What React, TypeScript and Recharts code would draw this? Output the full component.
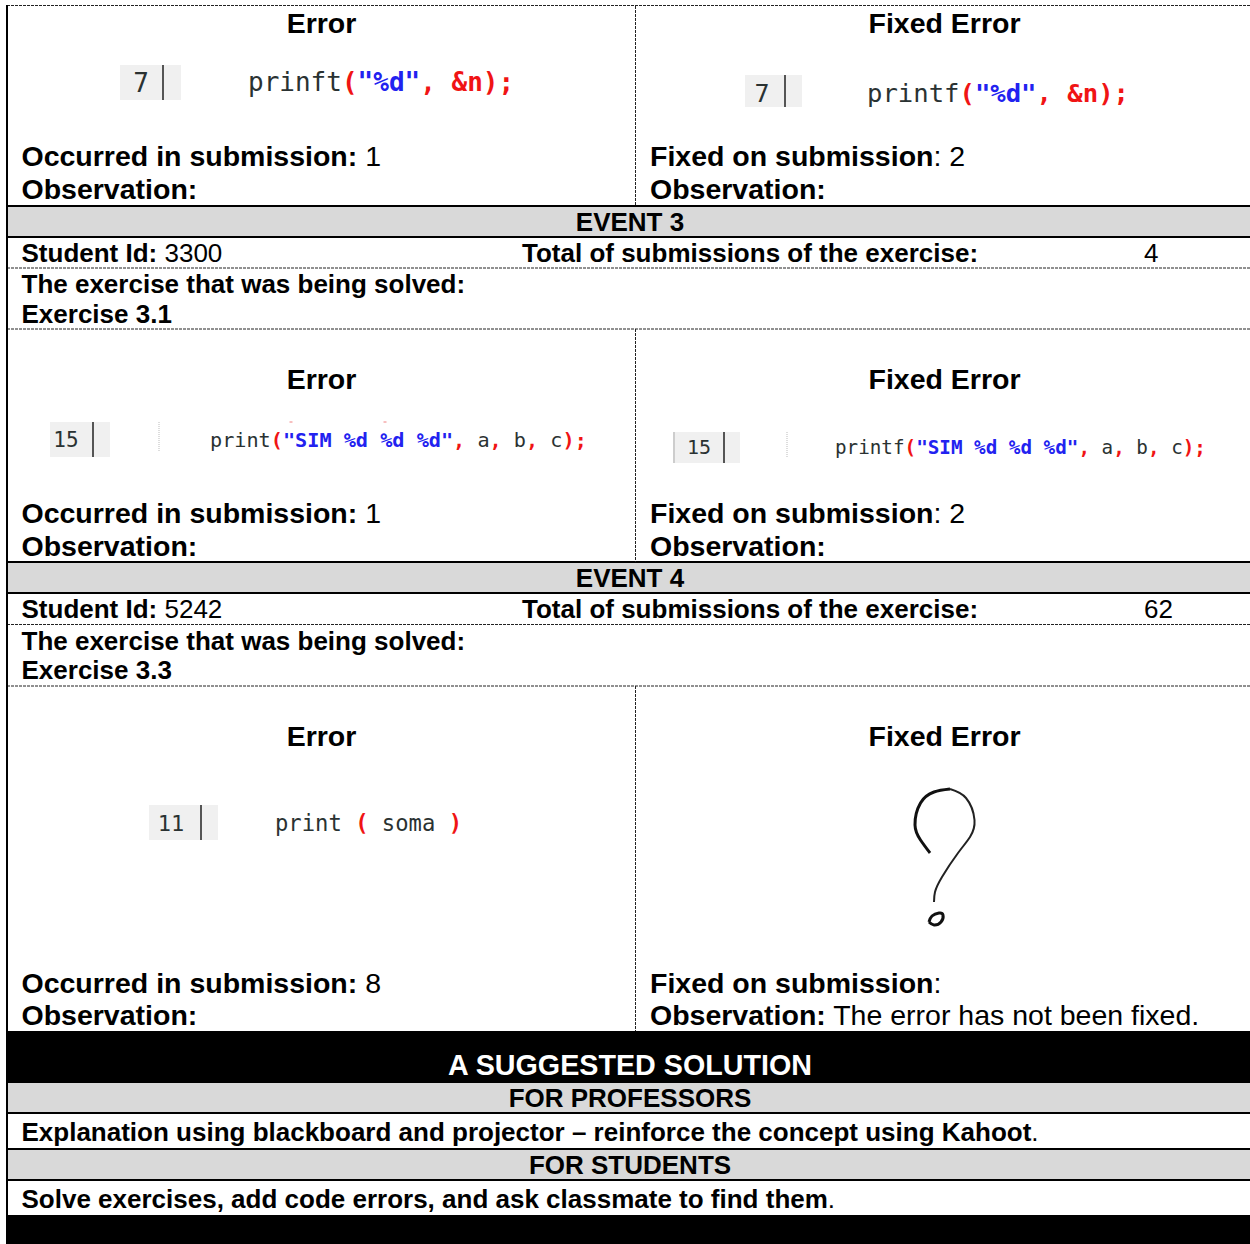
import React from "react";
import { ComposedChart, XAxis, YAxis, Scatter, Line, ReferenceArea, ReferenceLine } from "recharts";

type Run = { t: string; b?: boolean; c?: string };
type Item = { x: number; y: number; runs: Run[]; anchor?: string; scale?: number };

const B = (t: string): Run => ({ t, b: true });
const R = (t: string): Run => ({ t });

// Large labels (error headings, submission lines)
const largeLabels: Item[] = [
  { x: 321.5, y: 33, runs: [B("Error")], anchor: "middle" },
  { x: 944.5, y: 33, runs: [B("Fixed Error")], anchor: "middle" },
  { x: 21.5, y: 166, runs: [B("Occurred in submission:"), R(" 1")] },
  { x: 21.5, y: 199, runs: [B("Observation:")] },
  { x: 650, y: 166, runs: [B("Fixed on submission"), R(": 2")] },
  { x: 650, y: 199, runs: [B("Observation:")] },
  { x: 321.5, y: 389, runs: [B("Error")], anchor: "middle" },
  { x: 944.5, y: 389, runs: [B("Fixed Error")], anchor: "middle" },
  { x: 21.5, y: 523, runs: [B("Occurred in submission:"), R(" 1")] },
  { x: 21.5, y: 556, runs: [B("Observation:")] },
  { x: 650, y: 523, runs: [B("Fixed on submission"), R(": 2")] },
  { x: 650, y: 556, runs: [B("Observation:")] },
  { x: 321.5, y: 746, runs: [B("Error")], anchor: "middle" },
  { x: 944.5, y: 746, runs: [B("Fixed Error")], anchor: "middle" },
  { x: 21.5, y: 993, runs: [B("Occurred in submission:"), R(" 8")] },
  { x: 21.5, y: 1025, runs: [B("Observation:")] },
  { x: 650, y: 993, runs: [B("Fixed on submission"), R(":")] },
  { x: 650, y: 1025, runs: [B("Observation:"), R(" The error has not been fixed.")] },
];

// Smaller labels (bands, ids, exercise names, solutions)
const smallLabels: Item[] = [
  { x: 630, y: 231, runs: [B("EVENT 3")], anchor: "middle" },
  { x: 21.5, y: 262, runs: [B("Student Id:"), R(" 3300")] },
  { x: 522, y: 262, runs: [B("Total of submissions of the exercise:")] },
  { x: 1144, y: 262, runs: [R("4")] },
  { x: 21.5, y: 293, runs: [B("The exercise that was being solved:")] },
  { x: 21.5, y: 323, runs: [B("Exercise 3.1")] },
  { x: 630, y: 587, runs: [B("EVENT 4")], anchor: "middle" },
  { x: 21.5, y: 618, runs: [B("Student Id:"), R(" 5242")] },
  { x: 522, y: 618, runs: [B("Total of submissions of the exercise:")] },
  { x: 1144, y: 618, runs: [R("62")] },
  { x: 21.5, y: 650, runs: [B("The exercise that was being solved:")] },
  { x: 21.5, y: 679, runs: [B("Exercise 3.3")] },
  { x: 630, y: 1107, runs: [B("FOR PROFESSORS")], anchor: "middle" },
  { x: 21.5, y: 1141, runs: [B("Explanation using blackboard and projector – reinforce the concept using Kahoot"), R(".")] },
  { x: 630, y: 1174, runs: [B("FOR STUDENTS")], anchor: "middle" },
  { x: 21.5, y: 1208, runs: [B("Solve exercises, add code errors, and ask classmate to find them"), R(".")] },
];

const bannerLabels: Item[] = [
  { x: 630, y: 1075, runs: [B("A SUGGESTED SOLUTION")], anchor: "middle" },
];

const RED = "#f01414";
const BLUE = "#2222f0";
const INK = "#2a3232";
const code = (head: string, str: string, tail: Run[]): Run[] => [
  { t: head, c: INK },
  { t: "(", c: RED, b: true },
  { t: str, c: BLUE, b: true },
  ...tail,
];
const abc: Run[] = [
  { t: ",", c: RED, b: true }, { t: " a", c: INK }, { t: ",", c: RED, b: true }, { t: " b", c: INK },
  { t: ",", c: RED, b: true }, { t: " c", c: INK }, { t: ");", c: RED, b: true },
];
const amp: Run[] = [{ t: ", &n);", c: RED, b: true }];

const codeLines: (Item & { size: number })[] = [
  { x: 248, y: 91, size: 26, runs: code("prinft", "\"%d\"", amp) },
  { x: 867, y: 102, size: 25.6, runs: code("printf", "\"%d\"", amp) },
  { x: 210, y: 447, size: 20.2, runs: code("print", "\"SIM %d %d %d\"", abc) },
  { x: 835, y: 454, size: 19.25, runs: code("printf", "\"SIM %d %d %d\"", abc) },
  {
    x: 275, y: 831, size: 22.2,
    runs: [{ t: "print ", c: INK }, { t: "(", c: RED, b: true }, { t: " soma ", c: INK }, { t: ")", c: RED, b: true }],
  },
];

const lineNumbers: (Item & { size: number })[] = [
  { x: 141, y: 92, size: 26, anchor: "middle", runs: [{ t: "7", c: INK }] },
  { x: 762, y: 102, size: 25, anchor: "middle", runs: [{ t: "7", c: INK }] },
  { x: 66, y: 447, size: 21, anchor: "middle", runs: [{ t: "15", c: INK }] },
  { x: 699, y: 454, size: 20, anchor: "middle", runs: [{ t: "15", c: INK }] },
  { x: 171, y: 831, size: 22, anchor: "middle", runs: [{ t: "11", c: INK }] },
];

const gutters = [
  { x1: 120, x2: 181, y1: 65, y2: 100, bar: 163 },
  { x1: 745, x2: 802, y1: 75, y2: 107, bar: 785 },
  { x1: 50, x2: 110, y1: 422, y2: 457, bar: 93 },
  { x1: 673, x2: 740, y1: 432, y2: 463, bar: 724 },
  { x1: 149, x2: 218, y1: 805, y2: 840, bar: 201 },
];
const indentGuides = [
  { x: 159, y1: 422, y2: 452 },
  { x: 787, y1: 432, y2: 458 },
];
const squiggleTicks = [291, 385];

const greyBands = [
  [206, 237], [562, 593], [1083, 1113], [1149, 1180],
];
const blackBands = [
  [1031, 1083], [1215, 1244],
];
const solidRules = [206, 237, 562, 593, 1113, 1149, 1180];
const dashedRules = [5.5, 268, 329, 624.5, 686];
const columnDividers = [
  [6, 206], [329, 562], [686, 1031],
];

const hookLeft = [
  { x: 930, y: 853 }, { x: 920.5, y: 840 }, { x: 915, y: 825 }, { x: 920.5, y: 803 },
  { x: 934, y: 792 }, { x: 950, y: 789 },
];
const hookRight = [
  { x: 950, y: 789 }, { x: 966, y: 798 }, { x: 974.5, y: 820 }, { x: 970, y: 837 },
  { x: 958, y: 853 }, { x: 942, y: 877 }, { x: 935, y: 892 }, { x: 934, y: 902 },
];
const dotStroke = [
  { x: 929, y: 922 }, { x: 932, y: 916 }, { x: 939, y: 913 }, { x: 943, y: 915 },
  { x: 941, y: 922 }, { x: 934, y: 925 }, { x: 929, y: 922 },
];

const SANS = "'Liberation Sans', Arial, sans-serif";
const MONO = "'DejaVu Sans Mono', monospace";

const textShape = (size: number, family: string, fill: string) => (props: any) => {
  const item: Item & { size?: number } = props.payload;
  return (
    <text
      x={props.cx}
      y={props.cy}
      textAnchor={(item.anchor as any) || "start"}
      fontFamily={family}
      fontSize={item.size ?? size}
      fill={fill}
      xmlSpace="preserve"
      style={{ whiteSpace: "pre" }}
    >
      {item.runs.map((r, i) => (
        <tspan key={i} fontWeight={r.b ? 700 : 400} fill={r.c ?? fill}>
          {r.t}
        </tspan>
      ))}
    </text>
  );
};

export default function App() {
  return (
    <div style={{ position: "absolute", left: 0, top: 0, width: 1250, height: 1244, overflow: "hidden", background: "#fff" }}>
      <ComposedChart width={1250} height={1244} margin={{ top: 0, right: 0, bottom: 0, left: 0 }}>
        <XAxis type="number" dataKey="x" domain={[0, 1250]} hide allowDataOverflow allowDuplicatedCategory />
        <YAxis type="number" dataKey="y" domain={[0, 1244]} reversed hide allowDataOverflow width={0} />

        {greyBands.map(([y1, y2]) => (
          <ReferenceArea key={y1} x1={7} x2={1250} y1={y1} y2={y2} fill="#d9d9d9" fillOpacity={1} stroke="none" />
        ))}
        {blackBands.map(([y1, y2]) => (
          <ReferenceArea key={y1} x1={7} x2={1250} y1={y1} y2={y2} fill="#000" fillOpacity={1} stroke="none" />
        ))}
        {solidRules.map((y) => (
          <ReferenceLine key={y} segment={[{ x: 7, y }, { x: 1250, y }]} stroke="#000" strokeWidth={2} />
        ))}
        {dashedRules.map((y) => (
          <ReferenceLine key={y} segment={[{ x: 7, y }, { x: 1250, y }]} stroke="#222" strokeWidth={1} strokeDasharray="3 1" />
        ))}
        {columnDividers.map(([y1, y2]) => (
          <ReferenceLine key={y1} segment={[{ x: 635.5, y: y1 }, { x: 635.5, y: y2 }]} stroke="#222" strokeWidth={1} strokeDasharray="3 1" />
        ))}
        <ReferenceLine segment={[{ x: 7, y: 5 }, { x: 7, y: 1244 }]} stroke="#000" strokeWidth={2} />

        {gutters.map((g) => (
          <ReferenceArea key={g.x1} x1={g.x1} x2={g.x2} y1={g.y1} y2={g.y2} fill="#f0f0f0" fillOpacity={1} stroke="none" />
        ))}
        {gutters.map((g) => (
          <ReferenceLine key={g.bar} segment={[{ x: g.bar, y: g.y1 }, { x: g.bar, y: g.y2 }]} stroke="#555" strokeWidth={2} />
        ))}
        <ReferenceLine segment={[{ x: 674, y: 432 }, { x: 674, y: 463 }]} stroke="#aaa" strokeWidth={1} />
        {indentGuides.map((g) => (
          <ReferenceLine key={g.x} segment={[{ x: g.x, y: g.y1 }, { x: g.x, y: g.y2 }]} stroke="#bbb" strokeWidth={1} strokeDasharray="1 1" />
        ))}
        {squiggleTicks.map((x) => (
          <ReferenceLine key={x} segment={[{ x: x - 1.5, y: 422 }, { x: x + 1.5, y: 422 }]} stroke="#f08080" strokeWidth={1} />
        ))}

        <Scatter data={largeLabels} isAnimationActive={false} shape={textShape(28.5, SANS, "#000")} />
        <Scatter data={smallLabels} isAnimationActive={false} shape={textShape(26, SANS, "#000")} />
        <Scatter data={bannerLabels} isAnimationActive={false} shape={textShape(28.7, SANS, "#fff")} />
        <Scatter data={lineNumbers} isAnimationActive={false} shape={textShape(24, MONO, INK)} />
        <Scatter data={codeLines} isAnimationActive={false} shape={textShape(24, MONO, INK)} />

        <Line data={hookLeft} dataKey="y" type="natural" stroke="#111" strokeWidth={3} dot={false} activeDot={false} isAnimationActive={false} />
        <Line data={hookRight} dataKey="y" type="natural" stroke="#222" strokeWidth={2} dot={false} activeDot={false} isAnimationActive={false} />
        <Line data={dotStroke} dataKey="y" type="natural" stroke="#111" strokeWidth={3} dot={false} activeDot={false} isAnimationActive={false} />
      </ComposedChart>
    </div>
  );
}
